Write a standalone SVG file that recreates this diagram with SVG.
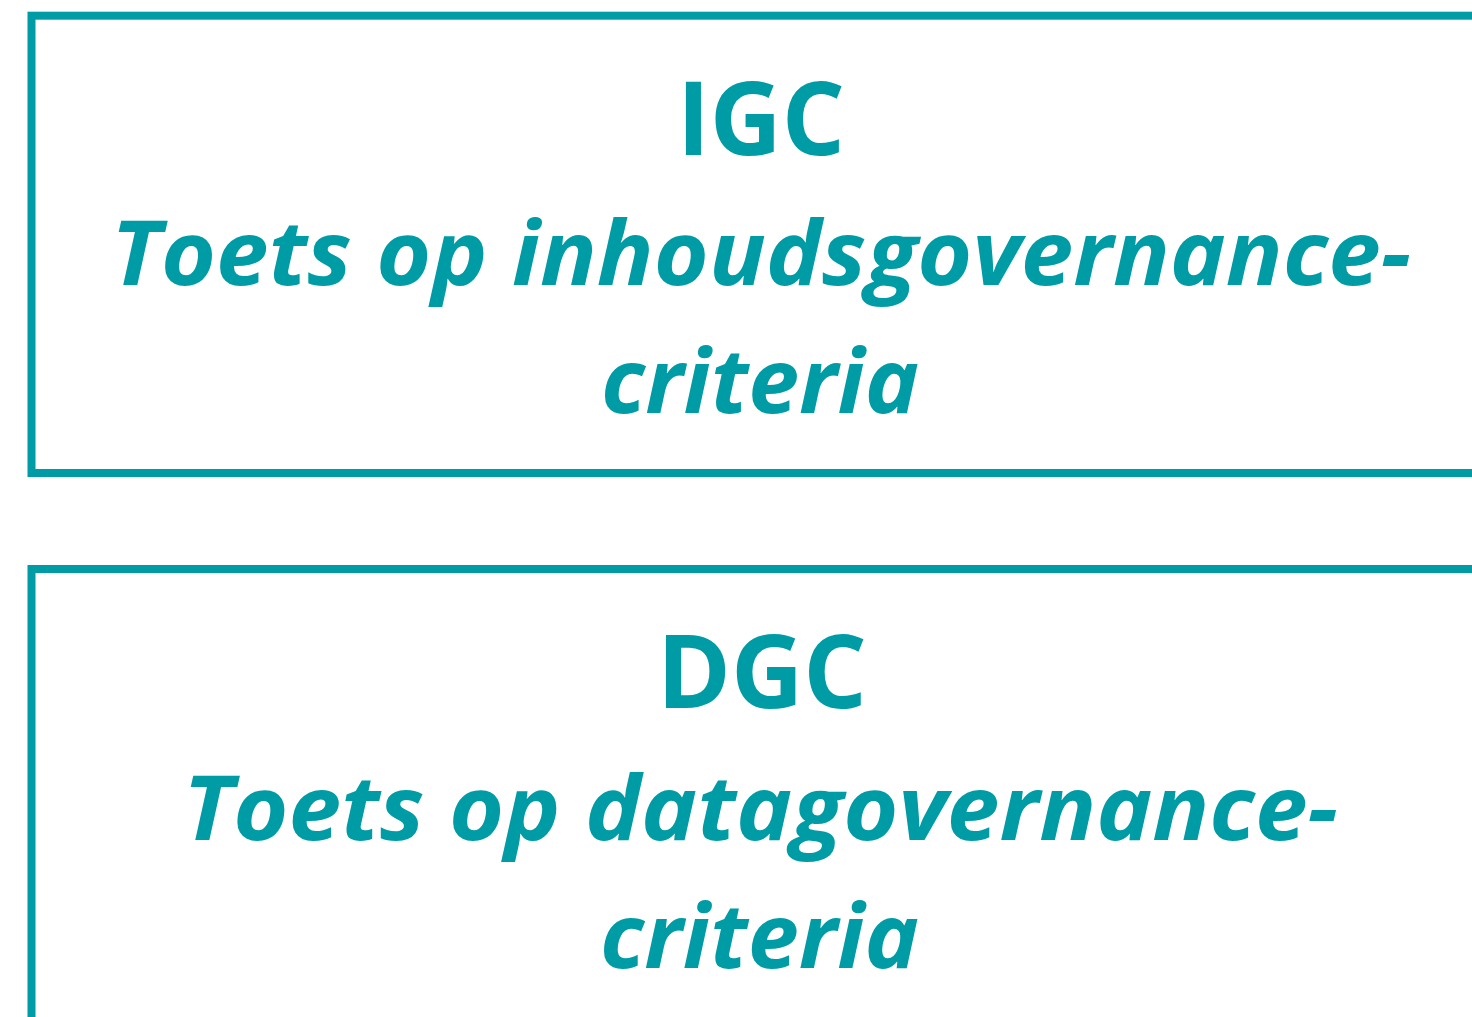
<svg xmlns="http://www.w3.org/2000/svg" width="1472" height="1017" viewBox="0 0 1472 1017">
<style>
.box{fill:#fff;stroke:#009ca6;stroke-width:8}
.t{fill:#009ca6;font-family:"Open Sans","Noto Sans","Liberation Sans",sans-serif;font-weight:bold}
.h{font-size:102px}
.i{font-size:90px;font-style:italic}
</style>
<rect width="1472" height="1017" fill="#fff"/>
<g id="node-igc">
<rect class="box" x="31.5" y="15.7" width="1500" height="457.3"/>
<text class="t h" x="677" y="155" textLength="168" lengthAdjust="spacingAndGlyphs">IGC</text>
<text class="t i" x="111" y="285" textLength="1300" lengthAdjust="spacingAndGlyphs">Toets op inhoudsgovernance-</text>
<text class="t i" x="601" y="413" textLength="318" lengthAdjust="spacingAndGlyphs">criteria</text>
</g>
<g id="node-dgc">
<rect class="box" x="31.5" y="569" width="1500" height="520"/>
<text class="t h" x="657" y="708" textLength="210" lengthAdjust="spacingAndGlyphs">DGC</text>
<text class="t i" x="183" y="840" textLength="1155" lengthAdjust="spacingAndGlyphs">Toets op datagovernance-</text>
<text class="t i" x="600" y="968" textLength="319" lengthAdjust="spacingAndGlyphs">criteria</text>
</g>
<g id="connectors"></g>
</svg>
